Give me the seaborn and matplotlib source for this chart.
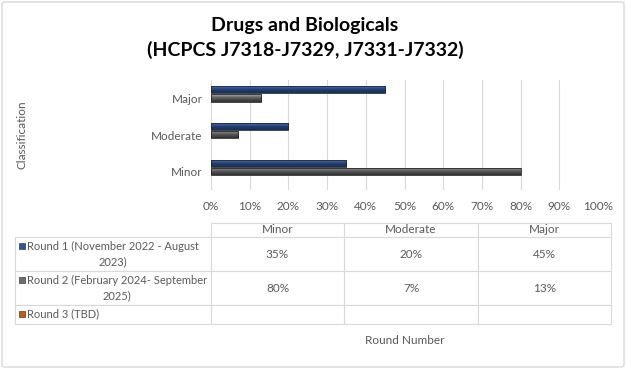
import numpy as np
import pandas as pd
import matplotlib
matplotlib.use("Agg")
import matplotlib.pyplot as plt
from matplotlib.patches import Rectangle, FancyBboxPatch
from matplotlib.colors import LinearSegmentedColormap
import seaborn as sns

# data
categories = ["Major", "Moderate", "Minor"]
table_cols = ["Minor", "Moderate", "Major"]
rounds = ["Round 1 (November 2022 - August 2023)",
          "Round 2 (February 2024- September 2025)",
          "Round 3 (TBD)"]
round_labels = ["Round 1 (November 2022 - August\n2023)",
                "Round 2 (February 2024- September\n2025)",
                "Round 3 (TBD)"]
round1 = [45, 20, 35]
round2 = [13, 7, 80]
round3 = [np.nan, np.nan, np.nan]
colors = ["#2F5597", "#6E6E6E", "#C55A11"]

df = pd.DataFrame({
    "Classification": categories * 3,
    "Round": [rounds[0]] * 3 + [rounds[1]] * 3 + [rounds[2]] * 3,
    "Value": round1 + round2 + round3,
})

sns.set_theme(style="white")
plt.rcParams["font.family"] = ["Lato", "DejaVu Sans"]
text_gray = "#595959"

fig = plt.figure(figsize=(6.26, 3.69), dpi=100)
ax = fig.add_axes([211 / 626, 1 - 190 / 369, 387 / 626, 110 / 369])

sns.barplot(data=df, x="Value", y="Classification", hue="Round",
            order=categories, hue_order=rounds, palette=colors, saturation=1,
            width=0.66, ax=ax, legend=False, edgecolor="none")

ax.set_xlim(0, 100)
ax.set_ylim(2.5, -0.5)

# gradient look on each bar
grad = {
    colors[0].upper(): LinearSegmentedColormap.from_list("b", ["#6F93D8", "#2F5597", "#1F3864", "#1A2F55"]),
    colors[1].upper(): LinearSegmentedColormap.from_list("g", ["#B8B8B8", "#707070", "#4A4A4A", "#333333"]),
}
g = np.linspace(0, 1, 50).reshape(-1, 1)
for p in list(ax.patches):
    w = p.get_width()
    if not np.isfinite(w) or w <= 0:
        continue
    fc = matplotlib.colors.to_hex(p.get_facecolor()).upper()
    cmap = grad.get(fc)
    if cmap is None:
        continue
    x0, y0 = p.get_x(), p.get_y()
    h = p.get_height() * 0.9
    p.set_height(h)
    im = ax.imshow(g, cmap=cmap, aspect="auto", extent=(x0, x0 + w, y0 + h, y0),
                   zorder=p.get_zorder() + 0.1, interpolation="bilinear")
    im.set_clip_path(p)
    ax.add_patch(Rectangle((x0, y0), w, h, fill=False, edgecolor="#262626",
                           linewidth=0.6, zorder=p.get_zorder() + 0.2))
ax.set_xlim(0, 100)
ax.set_ylim(2.5, -0.5)

ax.set_xticks(range(0, 101, 10))
ax.set_xticklabels([f"{v}%" for v in range(0, 101, 10)], fontsize=8.5, color=text_gray)
ax.tick_params(axis="y", labelsize=8.5, labelcolor=text_gray, length=0, pad=6)
ax.tick_params(axis="x", length=0, pad=8)
ax.grid(axis="x", color="#D9D9D9", linewidth=0.8)
ax.set_axisbelow(True)
for s in ax.spines.values():
    s.set_visible(False)
ax.set_xlabel("")
ax.set_ylabel("")

fig.text(22 / 626, 1 - 135 / 369, "Classification", rotation=90, ha="center",
         va="center", fontsize=8.5, color=text_gray)

fig.text(0.487, 1 - 25 / 369, "Drugs and Biologicals", ha="center", va="center",
         fontsize=14, fontweight="bold", color="black")
fig.text(0.487, 1 - 50 / 369, "(HCPCS J7318-J7329, J7331-J7332)", ha="center",
         va="center", fontsize=14, fontweight="bold", color="black")

# data table
tax = fig.add_axes([0, 0, 1, 1])
tax.axis("off")
tax.set_xlim(0, 1)
tax.set_ylim(0, 1)

def fmt(v):
    return "" if np.isnan(v) else f"{int(v)}%"

series = [round1, round2, round3]
cell_text = [[""] + table_cols]
for lab, vals in zip(round_labels, series):
    d = dict(zip(categories, vals))
    cell_text.append([""] + [fmt(d[c]) for c in table_cols])

col_w = [196, 133, 134, 133]
tbl = tax.table(cellText=cell_text, colWidths=[w / 596 for w in col_w],
                cellLoc="center",
                bbox=[15 / 626, 1 - 324 / 369, 596 / 626, 101.3 / 369])
tbl.auto_set_font_size(False)
tbl.set_fontsize(8.5)
row_h = [14.3, 34, 34, 19]
for (r, c), cell in tbl.get_celld().items():
    cell.set_height(row_h[r] / 369)
    cell.set_edgecolor("#D9D9D9")
    cell.set_linewidth(0.8)
    cell.get_text().set_color(text_gray)
    if r == 0 and c == 0:
        cell.visible_edges = ""

# legend keys and row labels in the table
key_y = [1 - 246 / 369, 1 - 280 / 369, 1 - 313.5 / 369]
text_y = [1 - 254 / 369, 1 - 288 / 369, 1 - 314 / 369]
for lab, ky, ty, col in zip(round_labels, key_y, text_y, colors):
    tax.add_patch(Rectangle((19 / 626, ky - 3 / 369), 6 / 626, 6 / 369,
                            facecolor=col, edgecolor="#404040", linewidth=0.5))
    tax.text(27 / 626, ty, lab, ha="left", va="center", multialignment="center",
             fontsize=8.0, color=text_gray, linespacing=1.4)

fig.text(405 / 626, 1 - 341 / 369, "Round Number", ha="center", va="center",
         fontsize=8.5, color=text_gray)

fig.patches.append(FancyBboxPatch((2 / 626, 2 / 369), 622 / 626, 365 / 369,
                                  boxstyle="round,pad=0,rounding_size=0.005",
                                  transform=fig.transFigure, fill=False,
                                  edgecolor="#D9D9D9", linewidth=1))

fig.savefig("out.png", dpi=100)
